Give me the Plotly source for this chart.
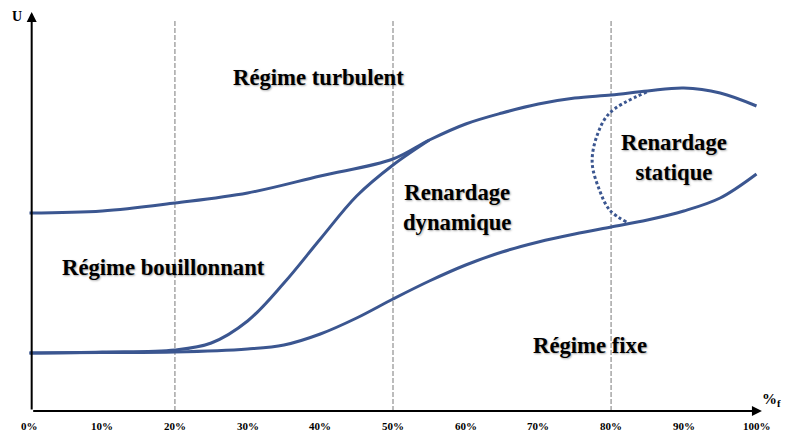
import plotly.graph_objects as go

# Flow regime diagram: velocity U versus filling percentage %f

# Upper boundary (turbulent regime)
upper_x = [0, 10, 20, 30, 40, 50, 55, 60, 65, 70, 75, 80, 85, 90, 95, 100]
upper_u = [198, 200, 208, 218, 235, 252, 271, 287, 298, 307, 313, 316, 320, 323, 318, 305]

# Rising curve from the bubbling regime into the dynamic-plugging zone
rise_x = [0, 10, 20, 25, 30, 35, 40, 45, 50, 55]
rise_u = [58, 59, 61, 68, 90, 128, 172, 215, 246, 271]

# Lower boundary (fixed regime)
lower_x = [0, 10, 20, 30, 35, 40, 45, 50, 55, 60, 65, 70, 75, 80, 85, 90, 95, 100]
lower_u = [58, 58.5, 59, 62, 66, 77, 93, 112, 130, 146, 159, 169, 177, 184, 191, 200, 213, 237]

# Static plugging envelope (dotted)
static_x = [84.9, 79.8, 78.0, 77.4, 78.4, 79.8, 82.1]
static_u = [319, 298, 274, 248, 221, 201, 189]

# Dashed separators
boundaries = [20, 50, 80]
boundary_top = 391

tick_values = [0, 10, 20, 30, 40, 50, 60, 70, 80, 90, 100]
tick_labels = [f"{v}%" for v in tick_values]

regions = [
    ("Régime turbulent", 39.8, 334),
    ("Régime bouillonnant", 18.4, 144),
    ("Régime fixe", 77.1, 66),
    ("Renardage<br>dynamique", 58.8, 204),
    ("Renardage<br>statique", 88.6, 254),
]

CURVE = "#3b5690"
SERIF = "Liberation Serif, Times New Roman, serif"
SHADOW = "1px 1px 2px rgba(0,0,0,0.35)"

fig = go.Figure()

for b in boundaries:
    fig.add_trace(go.Scatter(
        x=[b, b], y=[0, boundary_top], mode="lines",
        line=dict(color="#a6a6a6", width=1.5, dash="5px,2px"),
        hoverinfo="skip",
    ))

for xs, us in [(upper_x, upper_u), (rise_x, rise_u), (lower_x, lower_u)]:
    fig.add_trace(go.Scatter(
        x=xs, y=us, mode="lines",
        line=dict(color=CURVE, width=3, shape="spline", smoothing=1.0),
    ))

fig.add_trace(go.Scatter(
    x=static_x, y=static_u, mode="lines",
    line=dict(color=CURVE, width=3, dash="3px,2.5px", shape="spline", smoothing=1.0),
))

annotations = []

# Axes drawn as arrows
annotations.append(dict(x=100.75, y=0, ax=0.3, ay=0, xref="x", yref="y", axref="x", ayref="y",
                        showarrow=True, arrowhead=2, arrowsize=1, arrowwidth=2,
                        arrowcolor="black", text=""))
annotations.append(dict(x=0.3, y=399, ax=0.3, ay=0, xref="x", yref="y", axref="x", ayref="y",
                        showarrow=True, arrowhead=2, arrowsize=1, arrowwidth=2,
                        arrowcolor="black", text=""))

annotations.append(dict(x=-1.7, y=395, xref="x", yref="y", showarrow=False,
                        text="<b>U</b>", font=dict(family=SERIF, size=14, color="black")))
annotations.append(dict(x=102.1, y=11, xref="x", yref="y", showarrow=False,
                        text="<b>%<sub>f</sub></b>", font=dict(family=SERIF, size=15, color="black")))

for v, lab in zip(tick_values, tick_labels):
    annotations.append(dict(x=v, y=-15, xref="x", yref="y", showarrow=False,
                            text=f"<b>{lab}</b>",
                            font=dict(family=SERIF, size=11, color="black")))

for txt, xv, uv in regions:
    annotations.append(dict(x=xv, y=uv, xref="x", yref="y", showarrow=False,
                            text=f"<b>{txt}</b>", align="center",
                            font=dict(family=SERIF, size=22.7, color="black", shadow=SHADOW)))

px0 = 29.5
scale = 7.27
fig.update_layout(
    width=787, height=434,
    margin=dict(l=0, r=0, t=0, b=0),
    paper_bgcolor="white", plot_bgcolor="white",
    showlegend=False,
    xaxis=dict(range=[-px0 / scale, (787 - px0) / scale], visible=False, fixedrange=True),
    yaxis=dict(range=[-23, 411], visible=False, fixedrange=True),
    annotations=annotations,
)

fig.write_html("out.html")
